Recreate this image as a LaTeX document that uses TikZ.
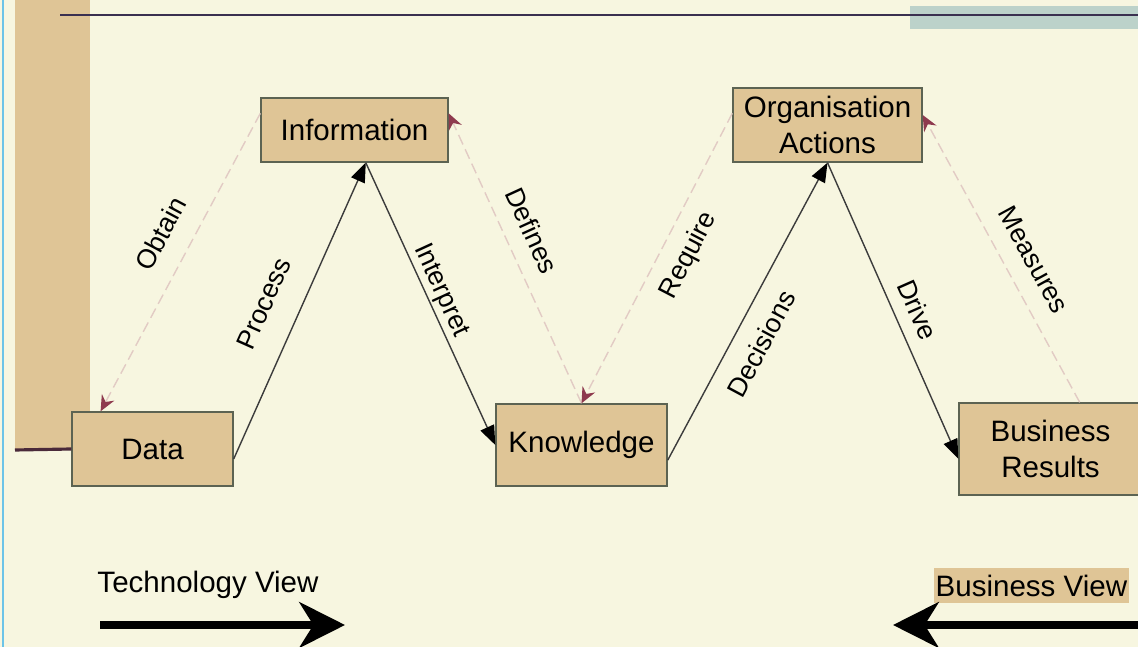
\documentclass[tikz,border=0pt]{standalone}
\usepackage{fontspec}
\setmainfont{Liberation Sans}
\usetikzlibrary{arrows.meta}

\definecolor{cream}{HTML}{F7F6E0}
\definecolor{tan}{HTML}{DFC596}
\definecolor{boxline}{HTML}{5C6352}
\definecolor{flowline}{HTML}{3C3C3C}
\definecolor{dashline}{HTML}{E2CBC4}
\definecolor{arrowred}{HTML}{8E3A4E}
\definecolor{topline}{HTML}{3A3050}
\definecolor{darkline}{HTML}{4A2A3A}
\definecolor{bandteal}{HTML}{BCD2CA}
\definecolor{skyline}{HTML}{6CC4E8}

\begin{document}
\begin{tikzpicture}[
  box/.style={draw=boxline, line width=0.4pt, fill=tan, align=center,
    inner sep=0pt, font=\fontsize{8.4}{10}\selectfont},
  flow/.style={draw=flowline, line width=0.4pt,
    -{Triangle[length=5.5pt,width=4.2pt,color=black]}},
  feedback/.style={draw=dashline, line width=0.4pt, dash pattern=on 3pt off 1.5pt,
    -{Stealth[length=4.5pt,width=4pt,inset=1.5pt,color=arrowred]}},
  lbl/.style={font=\fontsize{7.6}{9}\selectfont, sloped, inner sep=0pt},
  view/.style={font=\fontsize{8.4}{10}\selectfont, inner sep=0pt},
  bigarrow/.style={line width=2pt, -{Stealth[length=13pt,width=13pt,inset=4pt]}}
]
\fill[cream] (0,0) rectangle (11.38,6.47);
\useasboundingbox (0,0) rectangle (11.38,6.47);

% frame
\fill[tan] (0.15,1.97) rectangle (0.90,6.47);
\fill[bandteal] (9.10,6.18) rectangle (11.45,6.41);
\draw[topline, line width=0.6pt] (0.60,6.32) -- (11.45,6.32);
\draw[skyline, line width=0.6pt] (0.03,0) -- (0.03,6.47);

% boxes
\node[box, minimum width=1.61cm, minimum height=0.74cm] (data) at (1.525,1.98) {Data};
\node[box, minimum width=1.87cm, minimum height=0.64cm] (info) at (3.545,5.17) {Information};
\node[box, minimum width=1.71cm, minimum height=0.82cm] (know) at (5.815,2.02) {Knowledge};
\node[box, minimum width=1.89cm, minimum height=0.74cm] (org) at (8.275,5.22) {Organisation\\Actions};
\node[box, minimum width=1.83cm, minimum height=0.92cm] (res) at (10.505,1.98) {Business\\Results};

\draw[darkline, line width=0.9pt] (0.15,1.97) -- (data.west);

% forward flow
\draw[flow] (data.-7) -- node[lbl, pos=0.476, yshift=0.36cm] {Process} (info.-71);
\draw[flow] (info.-71) -- node[lbl, pos=0.475, yshift=0.15cm] {Interpret} (know.west);
\draw[flow] (know.-10) -- node[lbl, pos=0.435, yshift=-0.27cm] {Decisions} (org.south);
\draw[flow] (org.south) -- node[lbl, pos=0.528, yshift=0.23cm] {Drive} (res.186);

% feedback
\draw[feedback] (info.170) -- node[lbl, pos=0.453, yshift=0.31cm] {Obtain} (data.144);
\draw[feedback] (know.north) -- node[lbl, pos=0.557, yshift=0.27cm] {Defines} (info.10);
\draw[feedback] (org.173) -- node[lbl, pos=0.447, yshift=-0.27cm] {Require} (know.north);
\draw[feedback] (res.58) -- node[lbl, pos=0.449, yshift=0.28cm] {Measures} (org.6);

% views
\node[view] (techview) at (2.08,0.62) {Technology View};
\node[view, fill=tan, anchor=west, inner xsep=0.02cm, minimum height=0.35cm] (busview) at (9.33,0.615) {Business View};
\coordinate (techstart) at (1.00,0.22);
\coordinate (techend) at (3.45,0.22);
\coordinate (busstart) at (11.45,0.22);
\coordinate (busend) at (8.93,0.22);
\draw[bigarrow] (techstart) -- (techend);
\draw[bigarrow] (busstart) -- (busend);
\end{tikzpicture}
\end{document}
